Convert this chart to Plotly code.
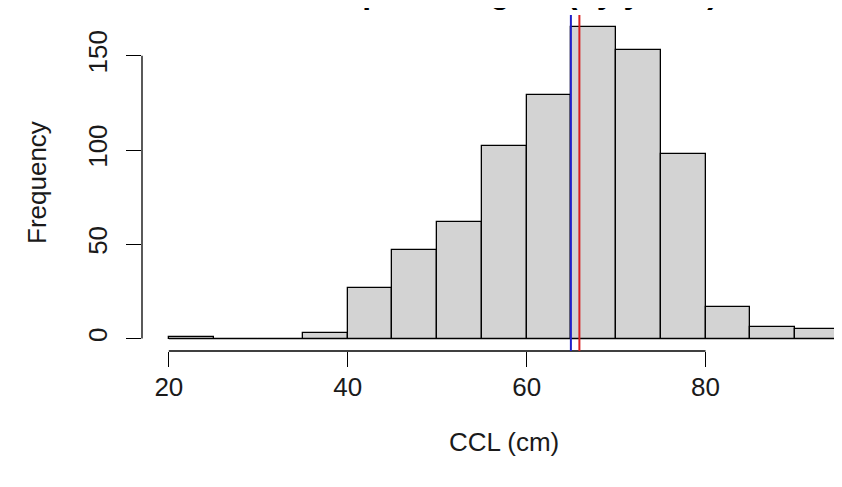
import plotly.graph_objects as go

# Histogram data (bin edges in cm and counts)
bin_edges = [20, 25, 30, 35, 40, 45, 50, 55, 60, 65, 70, 75, 80, 85, 90, 95]
counts = [1, 0, 0, 3, 27, 47, 62, 102, 129, 165, 153, 98, 17, 6, 5]
mean_ccl = 64.95
median_ccl = 65.9
x_ticks = [20, 40, 60, 80]
y_ticks = [0, 50, 100, 150]
title_text = "Carapace lengths (by years)"

centers = [(a + b) / 2 for a, b in zip(bin_edges[:-1], bin_edges[1:])]
widths = [b - a for a, b in zip(bin_edges[:-1], bin_edges[1:])]

FONT = "Liberation Sans, Arial, sans-serif"
TXT = "#1a1a1a"

fig = go.Figure()
# baseline of the histogram (zero-height bins drawn as a line, like R)
fig.add_trace(go.Scatter(x=[bin_edges[0], bin_edges[-1]], y=[0, 0], mode="lines",
                         line=dict(color="black", width=1.3), hoverinfo="skip",
                         showlegend=False))
fig.add_trace(go.Bar(x=centers, y=counts, width=widths,
                     marker=dict(color="#D3D3D3", line=dict(color="black", width=1.3)),
                     showlegend=False))

ymax = max(counts)
fig.update_layout(
    width=842, height=487,
    margin=dict(l=134, r=8, t=7, b=144),
    paper_bgcolor="white", plot_bgcolor="white",
    font=dict(family=FONT, size=26, color=TXT),
    bargap=0,
    xaxis=dict(range=[17, 95.26], tickmode="array", tickvals=x_ticks,
               ticktext=[str(v) for v in x_ticks], automargin=False,
               showgrid=False, zeroline=False, showline=False,
               ticks="outside", ticklen=15, tickwidth=1.3, tickcolor="black",
               ticklabelstandoff=-2, tickfont=dict(size=26, color=TXT)),
    yaxis=dict(range=[-0.04 * ymax, 1.04 * ymax], tickmode="array", tickvals=y_ticks,
               ticktext=[str(v) for v in y_ticks], automargin=False,
               showgrid=False, zeroline=False, showline=False,
               ticks="outside", ticklen=15, tickwidth=1.3, tickcolor="black",
               tickangle=-90, ticklabelstandoff=9, tickfont=dict(size=26, color=TXT)),
    shapes=[
        dict(type="line", xref="paper", x0=0, x1=0, yref="y", y0=y_ticks[0], y1=y_ticks[-1],
             line=dict(color="black", width=1.3)),
        dict(type="line", xref="x", x0=x_ticks[0], x1=x_ticks[-1], yref="paper", y0=0, y1=0,
             line=dict(color="black", width=1.3)),
        dict(type="line", xref="x", x0=mean_ccl, x1=mean_ccl, yref="paper", y0=0, y1=1,
             line=dict(color="#1f1fc8", width=2)),
        dict(type="line", xref="x", x0=median_ccl, x1=median_ccl, yref="paper", y0=0, y1=1,
             line=dict(color="#d82020", width=2)),
    ],
    annotations=[
        dict(text="CCL (cm)", xref="x", x=(17 + 98) / 2, yref="paper", y=-0.271,
             xanchor="center", yanchor="middle", showarrow=False, font=dict(size=26, color=TXT)),
        dict(text="Frequency", xref="paper", x=-0.15, yref="y", y=0.5 * (1.08 * ymax) - 0.04 * ymax,
             xanchor="center", yanchor="middle", textangle=-90, showarrow=False,
             font=dict(size=26, color=TXT)),
        dict(text="<b>" + title_text + "</b>", xref="x", x=(17 + 98) / 2, yref="paper", y=1.009,
             xanchor="center", yanchor="bottom", showarrow=False, font=dict(size=32, color="black")),
    ],
)

fig.write_html("out.html")
